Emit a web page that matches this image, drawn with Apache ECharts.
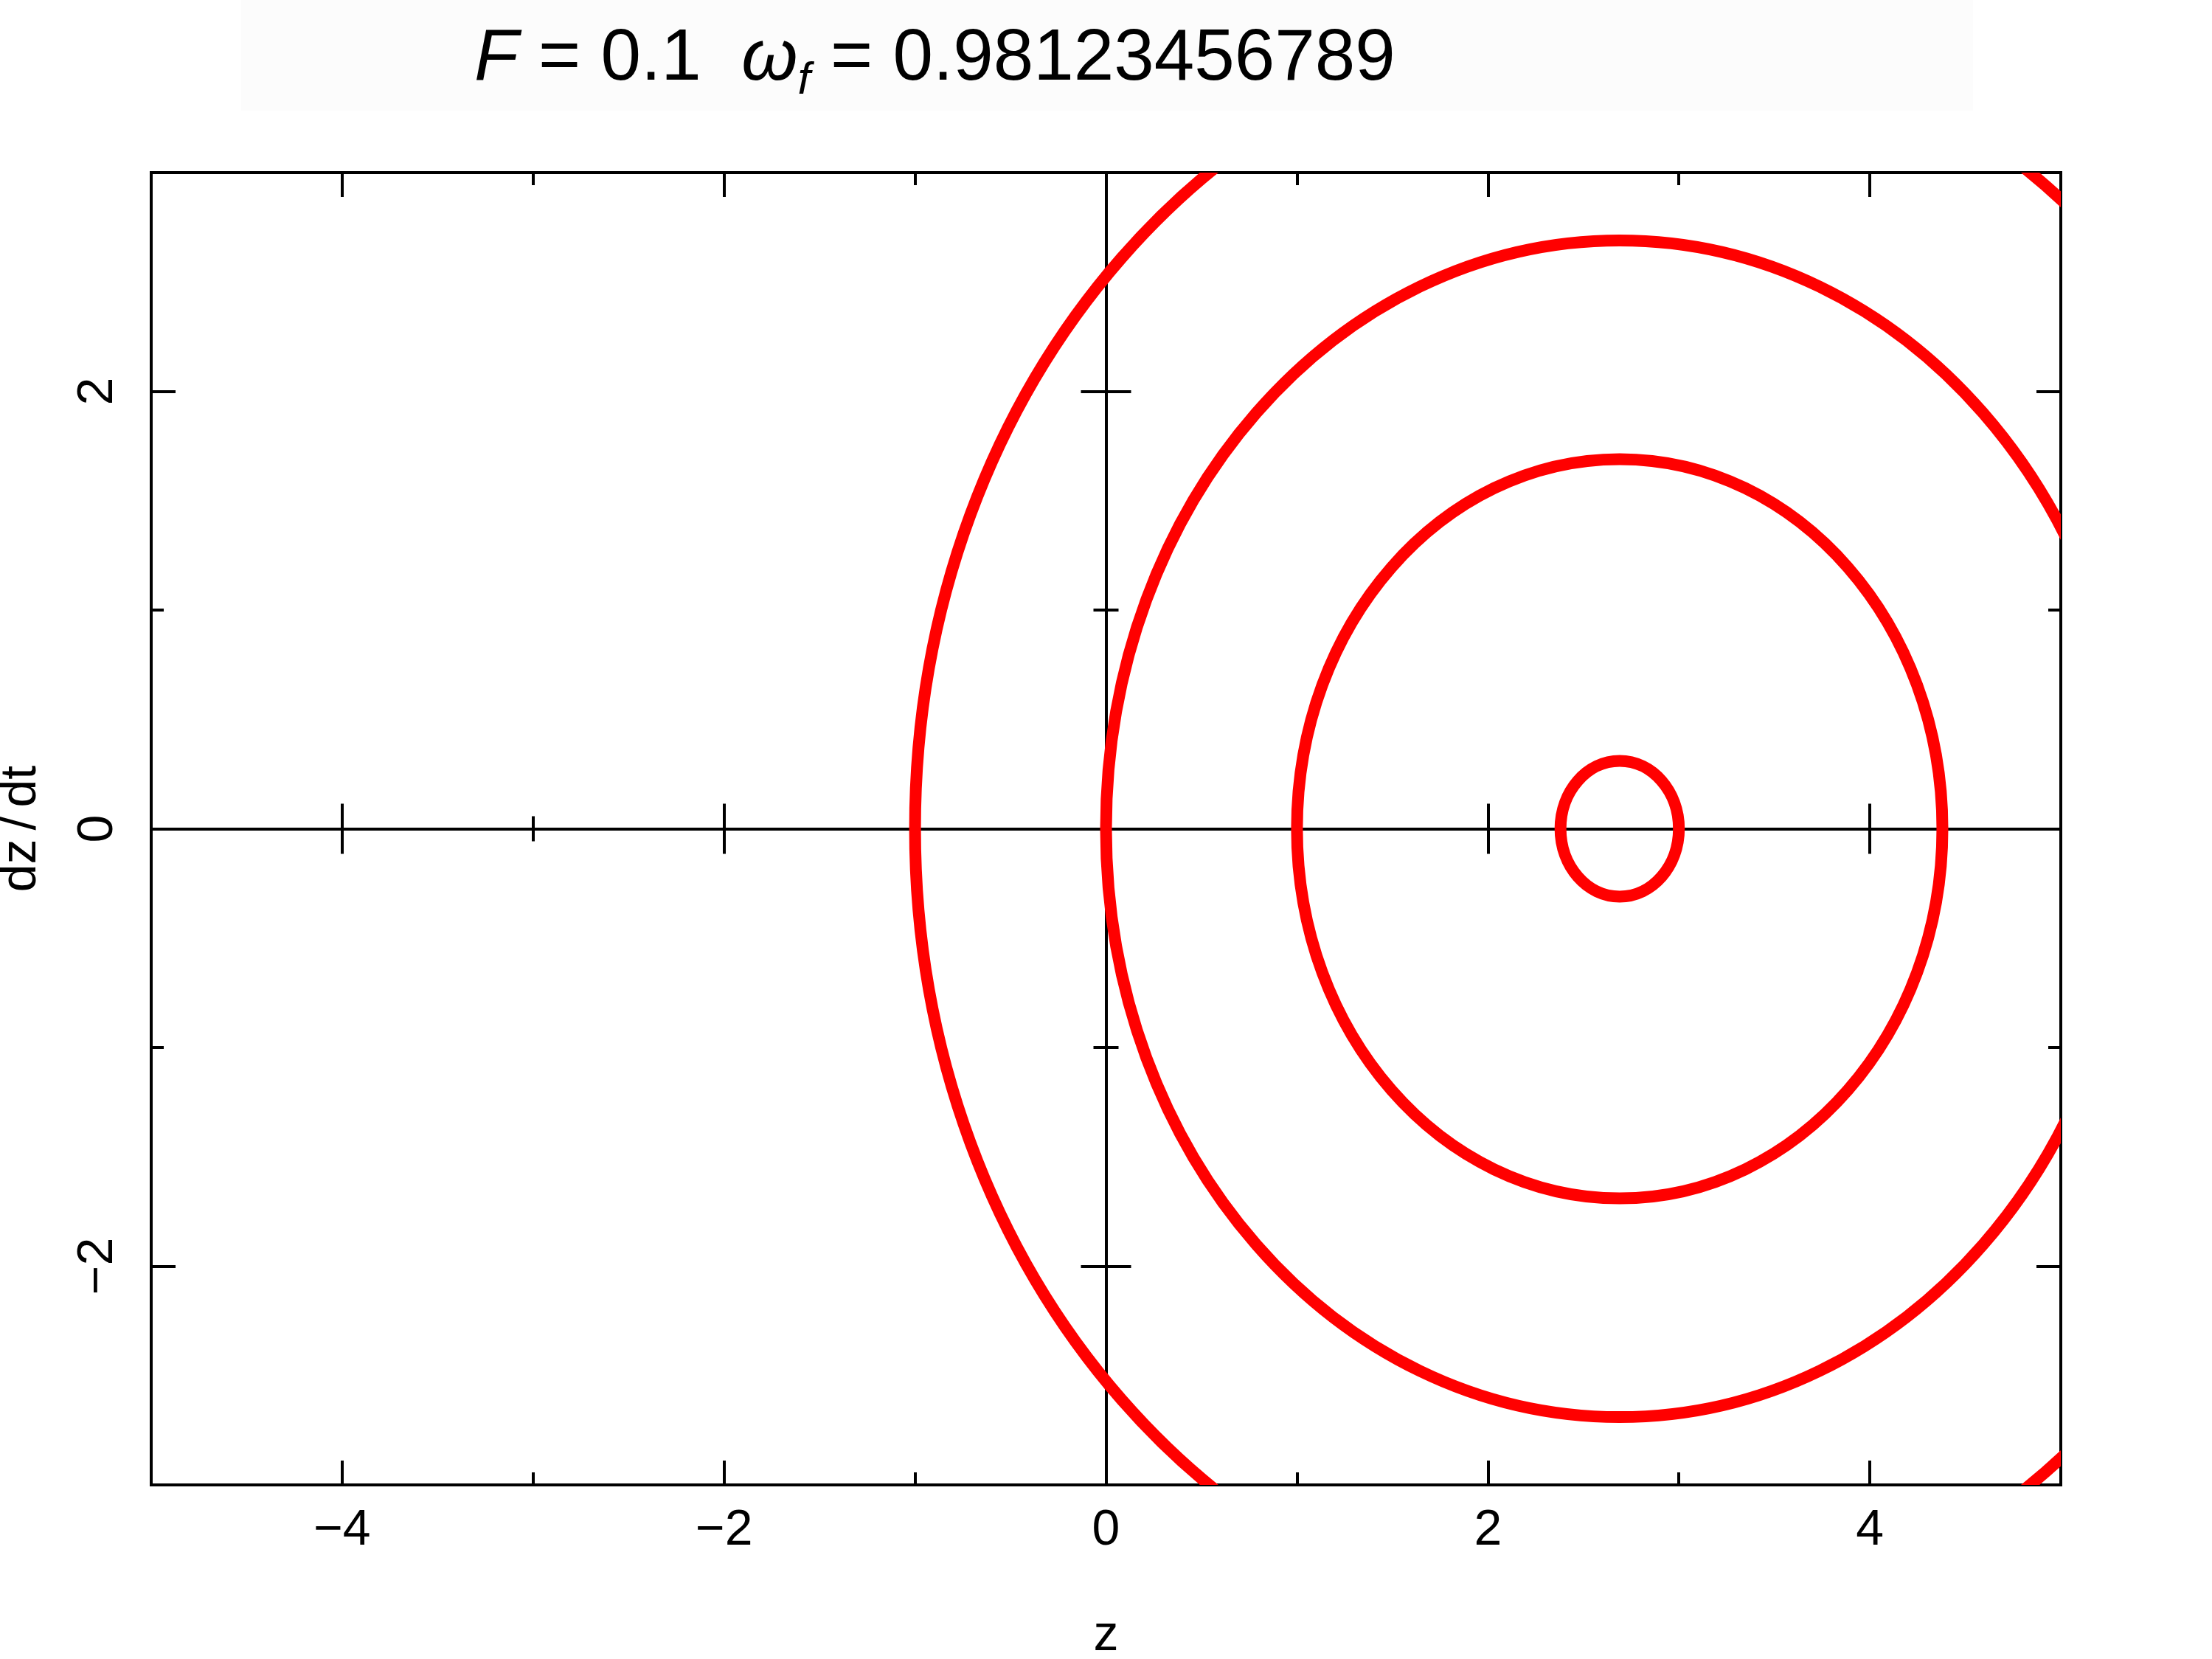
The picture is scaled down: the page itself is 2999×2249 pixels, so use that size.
<!DOCTYPE html>
<html>
<head>
<meta charset="utf-8">
<script src="https://cdn.jsdelivr.net/npm/echarts@6/dist/echarts.min.js"></script>
<style>
html,body{margin:0;padding:0;background:#fff;}
#chart{width:2999px;height:2249px;}
</style>
</head>
<body>
<div id="chart"></div>
<script>
// ---- data ----
const orbitCenterZ = [2.69, 2.69, 2.69, 2.69];
const orbitCenterV = [0, 0, 0, 0];
const orbitRadiusZ = [0.31, 1.69, 2.69, 3.69];
const orbitRadiusV = [0.31, 1.69, 2.69, 3.69];

const xMajorTicks = [-4, -2, 0, 2, 4];
const xMinorTicks = [-3, -1, 1, 3];
const yMajorTicks = [-2, 0, 2];
const yMinorTicks = [-1, 1];
const xZeroMajor = [-4, -2, 2, 4];
const xZeroMinor = [-3, -1, 1, 3];
const yZeroMajor = [-2, 2];
const yZeroMinor = [-1, 1];

const xRange = [-5, 5];
const yRange = [-3, 3];

// ---- chart ----
const FONT = 'Liberation Sans';
const BLACK = '#000';
const LW = 4;
const fmt = v => (v < 0 ? '\u2212' + Math.abs(v) : String(v));

function tickAxis(dim, opts) {
  const range = dim === 'x' ? xRange : yRange;
  return {
    type: 'value',
    min: range[0],
    max: range[1],
    position: opts.position,
    splitLine: { show: false },
    axisLine: {
      show: !!opts.onZero,
      onZero: !!opts.onZero,
      onZeroAxisIndex: opts.onZero ? 0 : undefined,
      lineStyle: { color: BLACK, width: LW }
    },
    axisTick: {
      show: true,
      inside: opts.inside,
      length: opts.length,
      customValues: opts.ticks,
      lineStyle: { color: BLACK, width: LW }
    },
    axisLabel: opts.label ? opts.label : { show: false },
    name: opts.name,
    nameLocation: 'middle',
    nameGap: opts.nameGap,
    nameTextStyle: {
      fontFamily: FONT, fontSize: 68, color: BLACK,
      rich: {
        a: { fontFamily: FONT, fontSize: 68, color: BLACK },
        s: { fontFamily: FONT, fontSize: 68, color: BLACK, padding: [0, 12, 0, 12] }
      }
    },
    silent: true
  };
}

const xAxes = [
  tickAxis('x', { position: 'bottom', inside: true, length: 33, ticks: xMajorTicks,
    label: { show: true, customValues: xMajorTicks, formatter: fmt, margin: 28,
             fontFamily: FONT, fontSize: 68, color: BLACK },
    name: 'z', nameGap: 171 }),
  tickAxis('x', { position: 'bottom', inside: true, length: 17, ticks: xMinorTicks }),
  tickAxis('x', { position: 'top', inside: true, length: 33, ticks: xMajorTicks }),
  tickAxis('x', { position: 'top', inside: true, length: 17, ticks: xMinorTicks }),
  tickAxis('x', { position: 'bottom', inside: true, length: 34, ticks: xZeroMajor, onZero: true }),
  tickAxis('x', { position: 'bottom', inside: false, length: 34, ticks: xZeroMajor, onZero: true }),
  tickAxis('x', { position: 'bottom', inside: true, length: 17, ticks: xZeroMinor, onZero: true }),
  tickAxis('x', { position: 'bottom', inside: false, length: 17, ticks: xZeroMinor, onZero: true })
];

const yAxes = [
  tickAxis('y', { position: 'left', inside: true, length: 33, ticks: yMajorTicks,
    label: { show: true, customValues: yMajorTicks, formatter: fmt, margin: 38, rotate: 90,
             fontFamily: FONT, fontSize: 68, color: BLACK },
    name: '{a|dz}{s|/}{a|dt}', nameGap: 142 }),
  tickAxis('y', { position: 'left', inside: true, length: 17, ticks: yMinorTicks }),
  tickAxis('y', { position: 'right', inside: true, length: 33, ticks: yMajorTicks }),
  tickAxis('y', { position: 'right', inside: true, length: 17, ticks: yMinorTicks }),
  tickAxis('y', { position: 'left', inside: true, length: 34, ticks: yZeroMajor, onZero: true }),
  tickAxis('y', { position: 'left', inside: false, length: 34, ticks: yZeroMajor, onZero: true }),
  tickAxis('y', { position: 'left', inside: true, length: 17, ticks: yZeroMinor, onZero: true }),
  tickAxis('y', { position: 'left', inside: false, length: 17, ticks: yZeroMinor, onZero: true })
];

const orbitData = orbitCenterZ.map((cz, i) => [cz, orbitCenterV[i], orbitRadiusZ[i], orbitRadiusV[i]]);

const option = {
  animation: false,
  backgroundColor: '#fff',
  graphic: [{
    type: 'rect', z: -10, silent: true,
    shape: { x: 327, y: 0, width: 2348, height: 150 },
    style: { fill: '#fcfcfc' }
  }],
  title: {
    left: 643,
    top: 21,
    padding: 0,
    text: '{fi|F}{n| = 0.1  }{wi|\u03c9}{sub|f}{n| = 0.98123456789}',
    textStyle: {
      fontWeight: 'normal',
      rich: {
        fi: { fontFamily: FONT, fontSize: 98, fontStyle: 'italic', fontWeight: 'normal', color: BLACK, lineHeight: 120 },
        n: { fontFamily: FONT, fontSize: 98, fontWeight: 'normal', color: BLACK, lineHeight: 120 },
        wi: { fontFamily: FONT, fontSize: 98, fontStyle: 'italic', fontWeight: 'normal', color: BLACK, lineHeight: 120 },
        sub: { fontFamily: FONT, fontSize: 62, fontStyle: 'italic', fontWeight: 'normal', color: BLACK,
               lineHeight: 52, verticalAlign: 'bottom' }
      }
    }
  },
  grid: {
    left: 205, top: 234, right: 205, bottom: 236,
    show: true, borderColor: BLACK, borderWidth: LW, backgroundColor: 'transparent',
    containLabel: false, outerBoundsMode: 'none'
  },
  xAxis: xAxes,
  yAxis: yAxes,
  series: [{
    type: 'custom',
    xAxisIndex: 0,
    yAxisIndex: 0,
    clip: true,
    silent: true,
    encode: { x: 0, y: 1 },
    data: orbitData,
    renderItem: function (params, api) {
      const c = api.coord([api.value(0), api.value(1)]);
      const s = api.size([api.value(2), api.value(3)]);
      return {
        type: 'ellipse',
        shape: { cx: c[0], cy: c[1], rx: s[0], ry: s[1] },
        style: { fill: 'none', stroke: '#ff0000', lineWidth: 16 }
      };
    }
  }]
};

const chart = echarts.init(document.getElementById('chart'), null, { renderer: 'canvas' });
chart.setOption(option);
</script>
</body>
</html>
